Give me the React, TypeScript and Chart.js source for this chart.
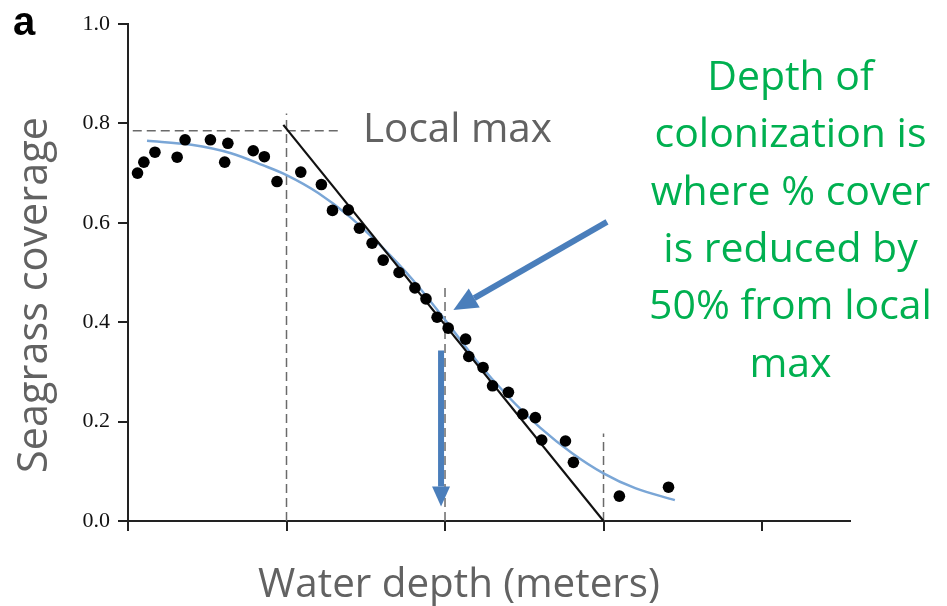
import React, { useEffect, useRef } from 'react';
import { Chart, registerables } from 'chart.js';

Chart.register(...registerables);

// Observed seagrass coverage (dots)
const obsDepth = [0.06, 0.1, 0.17, 0.31, 0.36, 0.52, 0.61, 0.63, 0.79, 0.86, 0.94, 1.09, 1.22, 1.29, 1.39, 1.46, 1.54, 1.61, 1.71, 1.81, 1.88, 1.95, 2.02, 2.13, 2.15, 2.24, 2.3, 2.4, 2.49, 2.57, 2.61, 2.76, 2.81, 3.1, 3.41];
const obsCover = [0.7, 0.722, 0.742, 0.732, 0.767, 0.767, 0.722, 0.76, 0.745, 0.733, 0.683, 0.702, 0.677, 0.625, 0.626, 0.589, 0.559, 0.525, 0.5, 0.469, 0.447, 0.41, 0.388, 0.366, 0.331, 0.309, 0.272, 0.259, 0.215, 0.208, 0.163, 0.161, 0.118, 0.05, 0.068];

// Fitted curve (blue)
const fitDepth = [0.12, 0.4, 0.65, 0.85, 1.0, 1.2, 1.4, 1.6, 1.8, 2.0, 2.2, 2.4, 2.6, 2.8, 3.0, 3.2, 3.45];
const fitCover = [0.765, 0.757, 0.74, 0.716, 0.696, 0.66, 0.612, 0.552, 0.484, 0.405, 0.322, 0.25, 0.188, 0.137, 0.096, 0.066, 0.042];

// Tangent line (black)
const tangentDepth = [0.98, 3.0];
const tangentCover = [0.797, 0.0];

// Dashed reference lines
const localMaxDepth = [0.03, 1.34];
const localMaxCover = [0.785, 0.785];
const refLineDepth = [1, 2, 3];
const refLineTop = [0.82, 0.47, 0.176];

// Arrows (data units): [fromX, fromY, toX, toY]
const arrowDiagonal = [3.022, 0.602, 2.053, 0.4245];
const arrowDown = [1.975, 0.343, 1.975, 0.029];

// Axes
const xTickValues = [0, 1, 2, 3, 4];
const yTickValues = [0, 0.2, 0.4, 0.6, 0.8, 1.0];
const xMax = 4.555;

// Text
const panelLabel = 'a';
const localMaxLabel = 'Local max';
const xTitle = 'Water depth (meters)';
const yTitle = 'Seagrass coverage';
const noteLines = ['Depth of', 'colonization is', 'where % cover', 'is reduced by', '50% from local', 'max'];

const GRAY = '#626262';
const GREEN = '#00B050';
const BLUE = '#4A7EBB';
const SANS = '"Open Sans", "Noto Sans", sans-serif';

function fitSize(ctx: CanvasRenderingContext2D, text: string, family: string, target: number) {
  ctx.font = `100px ${family}`;
  const w = ctx.measureText(text).width;
  return (100 * target) / w;
}

function drawArrow(ctx: CanvasRenderingContext2D, x1: number, y1: number, x2: number, y2: number, shaft: number, headLen: number, headW: number) {
  const ang = Math.atan2(y2 - y1, x2 - x1);
  const bx = x2 - Math.cos(ang) * headLen;
  const by = y2 - Math.sin(ang) * headLen;
  ctx.save();
  ctx.strokeStyle = BLUE;
  ctx.fillStyle = BLUE;
  ctx.lineWidth = shaft;
  ctx.lineCap = 'butt';
  ctx.beginPath();
  ctx.moveTo(x1, y1);
  ctx.lineTo(bx, by);
  ctx.stroke();
  const px = -Math.sin(ang) * headW / 2;
  const py = Math.cos(ang) * headW / 2;
  ctx.beginPath();
  ctx.moveTo(x2, y2);
  ctx.lineTo(bx + px, by + py);
  ctx.lineTo(bx - px, by - py);
  ctx.closePath();
  ctx.fill();
  ctx.restore();
}

const annotationPlugin = {
  id: 'annotations',
  afterDatasetsDraw(chart: any) {
    const { ctx, scales } = chart;
    const xs = scales.x;
    const ys = scales.y;
    const d = arrowDiagonal;
    drawArrow(ctx, xs.getPixelForValue(d[0]), ys.getPixelForValue(d[1]), xs.getPixelForValue(d[2]), ys.getPixelForValue(d[3]), 6, 24, 22);
    const v = arrowDown;
    drawArrow(ctx, xs.getPixelForValue(v[0]), ys.getPixelForValue(v[1]), xs.getPixelForValue(v[2]), ys.getPixelForValue(v[3]), 6, 20, 18);
  },
  afterDraw(chart: any) {
    const { ctx } = chart;
    ctx.save();
    // panel label
    ctx.fillStyle = '#000';
    ctx.font = 'bold 40px "Liberation Sans", Arial, sans-serif';
    ctx.textAlign = 'left';
    ctx.textBaseline = 'alphabetic';
    ctx.fillText(panelLabel, 13, 35);

    // Local max
    ctx.fillStyle = GRAY;
    let s = fitSize(ctx, localMaxLabel, SANS, 189);
    ctx.font = `${s}px ${SANS}`;
    ctx.textAlign = 'left';
    ctx.fillText(localMaxLabel, 363, 142);

    // x title
    s = fitSize(ctx, xTitle, SANS, 402);
    ctx.font = `${s}px ${SANS}`;
    ctx.textAlign = 'center';
    ctx.fillText(xTitle, 459, 597);

    // y title
    s = fitSize(ctx, yTitle, SANS, 356);
    ctx.font = `${s}px ${SANS}`;
    ctx.save();
    ctx.translate(47, 295);
    ctx.rotate(-Math.PI / 2);
    ctx.textAlign = 'center';
    ctx.fillText(yTitle, 0, 0);
    ctx.restore();

    // green note
    ctx.fillStyle = GREEN;
    s = fitSize(ctx, noteLines[1], SANS, 272);
    ctx.font = `${s}px ${SANS}`;
    ctx.textAlign = 'center';
    noteLines.forEach((line, i) => {
      ctx.fillText(line, 790.5, 90 + i * 57.3);
    });
    ctx.restore();
  },
};

export default function App() {
  const canvasRef = useRef<HTMLCanvasElement | null>(null);

  useEffect(() => {
    const canvas = canvasRef.current;
    if (!canvas) return;

    const dashed = {
      borderColor: '#6a6a6a',
      borderWidth: 1.5,
      borderDash: [9, 5],
      pointRadius: 0,
      showLine: true,
      fill: false,
      order: 3,
    };

    const refSets = refLineDepth.map((x, i) => ({
      ...dashed,
      label: `ref${i}`,
      data: [{ x, y: 0 }, { x, y: refLineTop[i] }],
    }));

    const chart = new Chart(canvas, {
      type: 'scatter',
      data: {
        datasets: [
          {
            label: 'observed',
            data: obsDepth.map((x, i) => ({ x, y: obsCover[i] })),
            backgroundColor: '#000',
            borderColor: '#000',
            pointRadius: 5.8,
            pointBorderWidth: 0,
            order: 0,
          },
          {
            label: 'fit',
            data: fitDepth.map((x, i) => ({ x, y: fitCover[i] })),
            showLine: true,
            borderColor: 'rgb(122,166,214)',
            borderWidth: 2.5,
            pointRadius: 0,
            cubicInterpolationMode: 'monotone',
            order: 2,
          },
          {
            label: 'tangent',
            data: tangentDepth.map((x, i) => ({ x, y: tangentCover[i] })),
            showLine: true,
            borderColor: '#111',
            borderWidth: 2.2,
            pointRadius: 0,
            order: 1,
          },
          {
            ...dashed,
            label: 'localmax',
            data: localMaxDepth.map((x, i) => ({ x, y: localMaxCover[i] })),
          },
          ...refSets,
        ] as any,
      },
      options: {
        animation: false,
        responsive: false,
        maintainAspectRatio: false,
        layout: { padding: { left: 0, top: 24, right: 97, bottom: 0 } },
        plugins: {
          legend: { display: false },
          tooltip: { enabled: false },
          title: { display: false },
        },
        scales: {
          x: {
            type: 'linear',
            min: 0,
            max: xMax,
            afterBuildTicks: (scale: any) => {
              scale.ticks = xTickValues.map((v) => ({ value: v }));
            },
            afterFit: (scale: any) => {
              scale.height = 85;
            },
            ticks: { callback: () => '', padding: 0 },
            grid: {
              drawOnChartArea: false,
              drawTicks: true,
              tickLength: 10,
              color: '#222',
              lineWidth: 2,
            },
            border: { display: true, color: '#222', width: 2 },
          },
          y: {
            type: 'linear',
            min: 0,
            max: 1,
            afterBuildTicks: (scale: any) => {
              scale.ticks = yTickValues.map((v) => ({ value: v }));
            },
            afterFit: (scale: any) => {
              scale.width = 128;
            },
            ticks: {
              callback: (v: any) => Number(v).toFixed(1),
              padding: 8,
              color: '#111',
              font: { family: '"Liberation Serif", "DejaVu Serif", serif', size: 22 },
            },
            grid: {
              drawOnChartArea: false,
              drawTicks: true,
              tickLength: 10,
              color: '#222',
              lineWidth: 2,
            },
            border: { display: true, color: '#222', width: 2 },
          },
        },
      } as any,
      plugins: [annotationPlugin],
    });

    return () => chart.destroy();
  }, []);

  return (
    <div style={{ position: 'absolute', left: 0, top: 0, width: 947, height: 606, background: '#fff' }}>
      <canvas ref={canvasRef} width={947} height={606} style={{ display: 'block' }} />
    </div>
  );
}
